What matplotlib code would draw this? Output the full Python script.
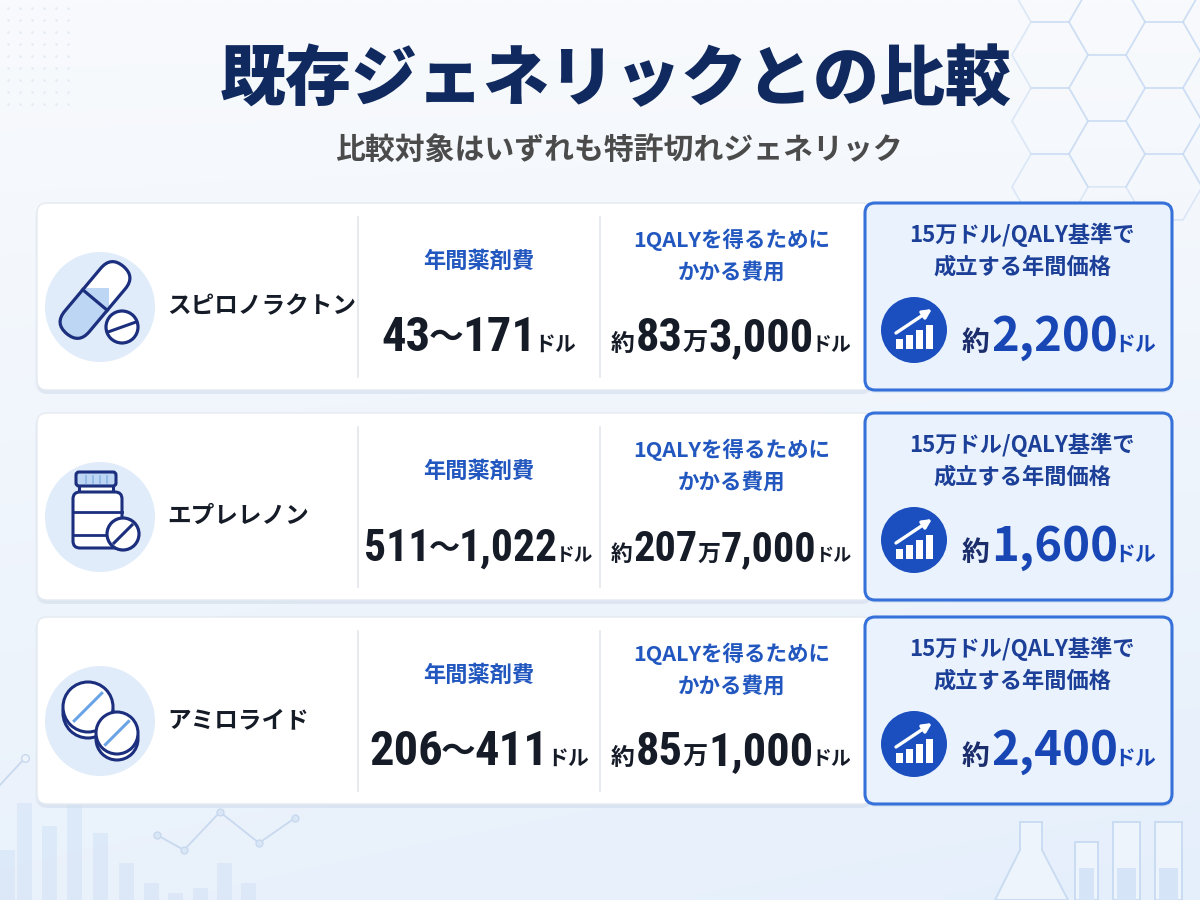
import os
import numpy as np
import matplotlib
matplotlib.use("Agg")
import matplotlib.pyplot as plt
from matplotlib import font_manager
from matplotlib.font_manager import FontProperties
from matplotlib.patches import (FancyBboxPatch, Circle, Rectangle, Polygon,
                                RegularPolygon, FancyArrowPatch)
from matplotlib.lines import Line2D
from matplotlib.transforms import Affine2D

# ---------------- data ----------------
title = "既存ジェネリックとの比較"
subtitle = "比較対象はいずれも特許切れジェネリック"
drugs = ["スピロノラクトン", "エプレレノン", "アミロライド"]
drug_icons = ["capsule", "bottle", "tablets"]
annual_label = "年間薬剤費"
qaly_label = ["1QALYを得るために", "かかる費用"]
price_label = ["15万ドル/QALY基準で", "成立する年間価格"]
annual_cost_low = [43, 511, 206]
annual_cost_high = [171, 1022, 411]
qaly_cost_man = [83, 207, 85]          # 万 part
qaly_cost_rest = [3000, 7000, 1000]
threshold_price = [2200, 1600, 2400]
unit = "ドル"
approx = "約"
man = "万"
tilde = "～"

# decorative background chart (bottom-left)
deco_bar_x = [0, 17, 42, 67, 93, 119, 144, 168, 193, 217, 241]
deco_bar_top = [850, 803, 826, 803, 833, 863, 883, 893, 888, 863, 883]
deco_line_x = [157, 184, 220, 259, 295]
deco_line_y = [835, 850, 812, 843, 818]

# ---------------- fonts ----------------
CJK = "Noto Sans CJK JP"
cjkfam = [CJK, "DejaVu Sans"]
plt.rcParams["font.family"] = cjkfam


def find_condensed():
    cond = ("condensed", "semi-condensed", "extra-condensed", "ultra-condensed")
    wmap = {"bold": 700, "heavy": 800, "black": 900, "semibold": 600, "demibold": 600,
            "extra bold": 800, "normal": 400, "regular": 400, "medium": 500}
    best = None
    for f in font_manager.fontManager.ttflist:
        fn = os.path.basename(f.fname).lower()
        nm = f.name.lower()
        is_c = (f.stretch in cond or "condensed" in fn or "narrow" in fn
                or "condensed" in nm or "narrow" in nm)
        if not is_c:
            continue
        if any(k in fn for k in ("mono", "italic", "oblique")) or "serif" in nm or "mono" in nm:
            continue
        w = f.weight if isinstance(f.weight, int) else wmap.get(str(f.weight).lower(), 400)
        if w < 600:
            continue
        score = abs(w - 700)
        if "roboto" in nm:
            score -= 50
        if "extra" in fn or "ultra" in fn:
            score += 100
        if best is None or score < best[0]:
            best = (score, f.fname)
    return best[1] if best else None


COND = find_condensed()
if COND:
    numprop = dict(fontproperties=FontProperties(fname=COND))
    NUMSIZE = 35
else:
    numprop = dict(family=cjkfam)
    NUMSIZE = 30

# ---------------- colours ----------------
NAVY = "#10295e"
INK = "#151b27"
LBL = "#2157bf"
LBL4 = "#1c3f98"
BLUE4 = "#1846b4"
ICON = "#1b2f7e"
ICONBG = "#e1ecfa"
LIGHTFILL = "#bdd6f3"

fig = plt.figure(figsize=(12, 9), dpi=100)
ax = fig.add_axes([0, 0, 1, 1])
ax.set_xlim(0, 1200)
ax.set_ylim(900, 0)
ax.axis("off")

# background gradient
yy, xx = np.mgrid[0:1:90j, 0:1:120j]
top_c = np.array([248, 250, 253]) / 255
bot_c = np.array([229, 239, 251]) / 255
tt = np.clip(0.75 * yy + 0.25 * xx * yy, 0, 1)[..., None]
bg = top_c * (1 - tt) + bot_c * tt
ax.imshow(bg, extent=[0, 1200, 900, 0], aspect="auto", zorder=0, interpolation="bilinear")

# hexagon decoration (top-right)
for i in range(4):
    for j in range(-1, 3):
        cx = 1050 + 57 * i
        cy = 55 + 66 * j + (33 if i % 2 else 0)
        if cy > 200:
            continue
        ax.add_patch(RegularPolygon((cx, cy), 6, radius=38, orientation=np.pi / 6,
                                    facecolor="none", edgecolor="#bcd3f0",
                                    lw=1.2, alpha=0.45, zorder=1))
# dots (top-left)
gx, gy = np.meshgrid(np.arange(8, 70, 12), np.arange(8, 110, 12))
ax.scatter(gx.ravel(), gy.ravel(), s=3, color="#cddcf0", alpha=0.5, zorder=1, lw=0)

# bottom-left decorative bars / line
ax.bar(deco_bar_x, [900 - v for v in deco_bar_top], bottom=deco_bar_top, width=15,
       align="edge", color="#d4e3f6", alpha=0.6, zorder=1)
ax.plot(deco_line_x, deco_line_y, color="#c8d9ef", lw=1.3, marker="o", ms=5,
        mfc="#d9e6f6", mec="#c8d9ef", zorder=1)
ax.plot([0, 25], [785, 758], color="#c8d9ef", lw=1.3, zorder=1)
ax.scatter([25], [758], s=30, facecolor="#eef4fb", edgecolor="#c8d9ef", zorder=1)

# bottom-right flasks
for (x0, w, tp) in [(1075, 23, 842), (1113, 27, 822), (1155, 27, 822)]:
    ax.add_patch(Rectangle((x0, tp), w, 900 - tp, facecolor="#eef4fc", edgecolor="#cadcf2",
                           lw=1.4, zorder=1))
    ax.add_patch(Rectangle((x0 + 4, 868), w - 8, 32, facecolor="#d5e4f6", edgecolor="none", zorder=1))
ax.add_patch(Polygon([(1020, 822), (1042, 822), (1042, 850), (1068, 900), (995, 900), (1020, 850)],
                     closed=True, facecolor="#eef4fc", edgecolor="#cadcf2", lw=1.4, zorder=1))

# ---------------- title ----------------
ax.text(616, 80, title, ha="center", va="center", fontsize=47.5, fontweight=900,
        color=NAVY, zorder=5)
ax.text(619, 151, subtitle, ha="center", va="center", fontsize=21.5, fontweight="bold",
        color="#4b4b4b", zorder=5)

renderer = fig.canvas.get_renderer()


def compose(xc, yb, parts, maxw=None):
    """parts: (text, size, color, fontkw, dy, gap_before)"""
    arts = []
    for s, size, color, fkw, dy, gb in parts:
        tx = ax.text(0, yb + dy, s, fontsize=size, color=color, fontweight="bold",
                     ha="left", va="baseline", zorder=6, **fkw)
        arts.append((tx, size, gb))

    def measure():
        ws = [a[0].get_window_extent(renderer).width for a in arts]
        return ws, sum(ws) + sum(a[2] for a in arts[1:])

    ws, total = measure()
    if maxw is not None and total > maxw:
        f = maxw / total
        for tx, size, gb in arts:
            tx.set_fontsize(size * f)
        ws, total = measure()
    x = xc - total / 2
    for i, ((tx, size, gb), w) in enumerate(zip(arts, ws)):
        if i > 0:
            x += gb
        tx.set_x(x)
        x += w


tops = [203, 413, 617]
H = 187


def rbox(x, y, w, h, r, **kw):
    return FancyBboxPatch((x, y), w, h, boxstyle=f"round,pad=0,rounding_size={r}", **kw)


def draw_capsule(top):
    cx, cy = 95, top + 97
    L, W = 88, 32
    tr = Affine2D().rotate_deg_around(cx, cy, -50) + ax.transData
    body = rbox(cx - L / 2, cy - W / 2, L, W, W / 2, facecolor="white", edgecolor="none", zorder=4)
    body.set_transform(tr)
    ax.add_patch(body)
    half = rbox(cx - L / 2, cy - W / 2, L, W, W / 2, facecolor=LIGHTFILL, edgecolor="none", zorder=4.5)
    half.set_transform(tr)
    ax.add_patch(half)
    clip = Rectangle((cx - L / 2 - 2, cy - W / 2 - 2), L / 2 + 2, W + 4, transform=tr)
    half.set_clip_path(clip)
    outline = rbox(cx - L / 2, cy - W / 2, L, W, W / 2, facecolor="none", edgecolor=ICON, lw=2.3, zorder=5)
    outline.set_transform(tr)
    ax.add_patch(outline)
    ln = Line2D([cx, cx], [cy - W / 2, cy + W / 2], color=ICON, lw=2.3, zorder=5)
    ln.set_transform(tr)
    ax.add_artist(ln)
    ax.add_patch(Circle((122, top + 124), 16, facecolor="white", edgecolor=ICON, lw=2.3, zorder=6))
    ax.plot([108, 136], [top + 129, top + 119], color=ICON, lw=2.2, zorder=7)


def draw_bottle(top):
    ax.add_patch(Rectangle((79, top + 72), 34, 9, facecolor="white", edgecolor=ICON, lw=2.2, zorder=4))
    ax.add_patch(rbox(73, top + 79, 49, 56, 7, facecolor="white", edgecolor=ICON, lw=2.2, zorder=4))
    ax.add_patch(rbox(76, top + 59, 40, 14, 3, facecolor=LIGHTFILL, edgecolor=ICON, lw=2.2, zorder=5))
    for xv in [86, 93, 100, 107]:
        ax.plot([xv, xv], [top + 63, top + 70], color="#8fb6e6", lw=1.2, zorder=5)
    ax.plot([73, 122], [top + 99, top + 99], color=ICON, lw=2.0, zorder=5)
    ax.plot([73, 110], [top + 122, top + 122], color=ICON, lw=2.0, zorder=5)
    ax.add_patch(Circle((123, top + 121), 16, facecolor="white", edgecolor=ICON, lw=2.3, zorder=6))
    ax.plot([114, 132], [top + 130, top + 112], color=ICON, lw=2.2, zorder=7)


def draw_tablets(top):
    for (cx, cy, r) in [(88, top + 90, 25), (117, top + 116, 21)]:
        ax.add_patch(Circle((cx, cy + 6), r, facecolor="white", edgecolor=ICON, lw=2.2, zorder=5))
        ax.add_patch(Circle((cx, cy), r, facecolor="white", edgecolor=ICON, lw=2.2, zorder=5))
        d = r * 0.55
        ax.plot([cx - d, cx + d], [cy + d, cy - d], color="#6aa3e6", lw=2.2, zorder=6)


icon_fns = {"capsule": draw_capsule, "bottle": draw_bottle, "tablets": draw_tablets}
cjk = dict(family=cjkfam)

for k, top in enumerate(tops):
    # card shadow + card
    ax.add_patch(rbox(37, top + 4, 835, H, 11, facecolor="#c5d3e6", edgecolor="none", alpha=0.35, zorder=2))
    ax.add_patch(rbox(35, top + 2, 839, H + 2, 12, facecolor="#d7e1ee", edgecolor="none", alpha=0.25, zorder=2))
    ax.add_patch(rbox(37, top, 835, H, 10, facecolor="white", edgecolor="#e5eaf1", lw=1, zorder=3))
    # highlight box
    ax.add_patch(rbox(866, top + 3, 307, H, 10, facecolor="#c9d8ee", edgecolor="none", alpha=0.4, zorder=3))
    ax.add_patch(rbox(865, top, 307, H, 10, facecolor="#eaf2fd", edgecolor="#3571d9", lw=2.2, zorder=4))
    # dividers
    for xd in [358, 600]:
        ax.plot([xd, xd], [top + 14, top + 174], color="#e2e6ec", lw=1.2, zorder=4)
    # icon
    ax.add_patch(Circle((100, top + 104), 55, facecolor=ICONBG, edgecolor="none", zorder=4))
    icon_fns[drug_icons[k]](top)
    # drug name
    ax.text(167, top + 103, drugs[k], ha="left", va="center", fontsize=17, fontweight="bold",
            color=INK, zorder=6)
    # column 2
    ax.text(479, top + 58, annual_label, ha="center", va="center", fontsize=16,
            fontweight="bold", color=LBL, zorder=6)
    compose(479, top + 148, [
        (f"{annual_cost_low[k]:,}", NUMSIZE, INK, numprop, 0, 0),
        (tilde, 25, INK, cjk, -3, -2),
        (f"{annual_cost_high[k]:,}", NUMSIZE, INK, numprop, 0, -1),
        (unit, 15, INK, cjk, 0, -2),
    ], maxw=230)
    # column 3
    ax.text(732, top + 37, qaly_label[0], ha="center", va="center", fontsize=15.5,
            fontweight="bold", color=LBL, zorder=6)
    ax.text(732, top + 69, qaly_label[1], ha="center", va="center", fontsize=15.5,
            fontweight="bold", color=LBL, zorder=6)
    compose(731, top + 148, [
        (approx, 18, INK, cjk, 0, 0),
        (f"{qaly_cost_man[k]}", NUMSIZE, INK, numprop, 0, 1),
        (man, 19, INK, cjk, 0, 0),
        (f"{qaly_cost_rest[k]:,}", NUMSIZE, INK, numprop, 0, 0),
        (unit, 15, INK, cjk, 0, -2),
    ], maxw=240)
    # column 4
    ax.text(1022, top + 32, price_label[0], ha="center", va="center", fontsize=16,
            fontweight="bold", color=LBL4, zorder=6)
    ax.text(1022, top + 64, price_label[1], ha="center", va="center", fontsize=16,
            fontweight="bold", color=LBL4, zorder=6)
    cx, cy = 914, top + 127
    ax.add_patch(Circle((cx, cy), 33, facecolor="#1b4fbf", edgecolor="none", zorder=5))
    for bx, bh in zip([-18, -8, 2, 12], [10, 14, 19, 24]):
        ax.add_patch(Rectangle((cx + bx, cy + 19 - bh), 7, bh, facecolor="white",
                               edgecolor="none", zorder=6))
    ax.add_patch(FancyArrowPatch((cx - 18, cy + 3), (cx + 18, cy - 21), arrowstyle="-|>",
                                 mutation_scale=13, color="white", lw=2.4, zorder=7,
                                 shrinkA=0, shrinkB=0))
    compose(1059, top + 148, [
        (approx, 20, "#1b2d6b", cjk, 0, 0),
        (f"{threshold_price[k]:,}", 34, BLUE4, cjk, 0, 2),
        (unit, 15, BLUE4, cjk, 0, -4),
    ])

fig.savefig("out.png", dpi=100)
